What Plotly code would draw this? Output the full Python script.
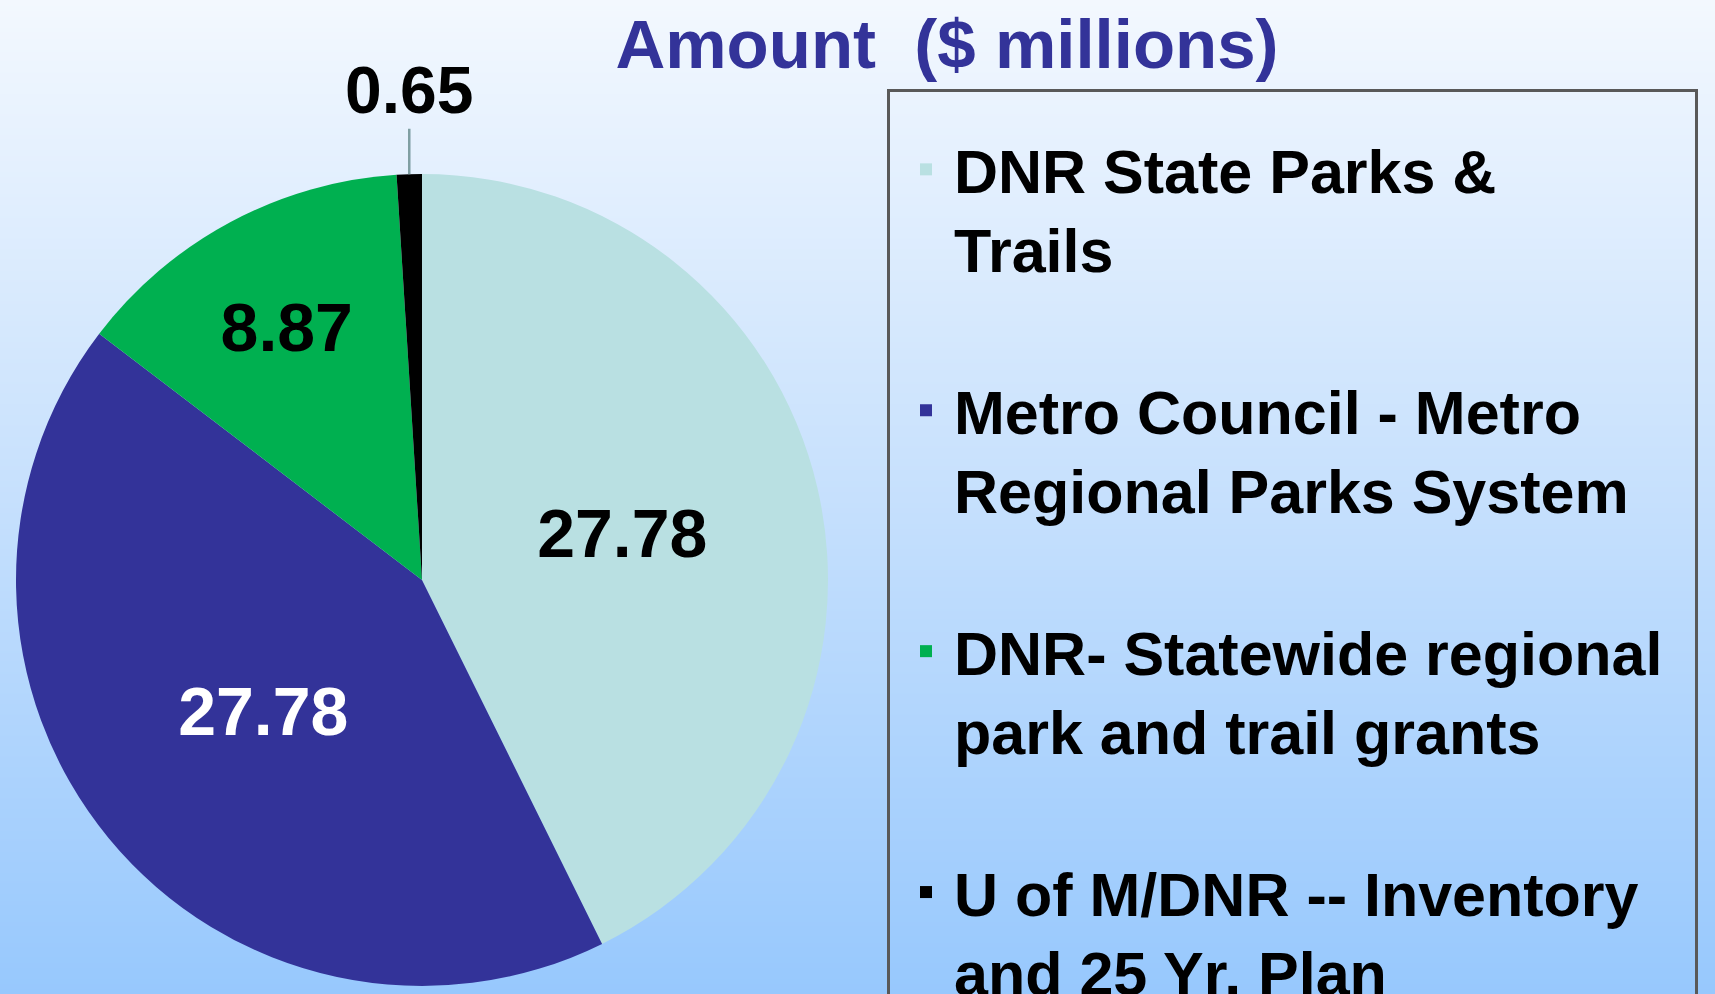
import math
import plotly.graph_objects as go

# ---- data ----
categories = [
    "DNR State Parks & Trails",
    "Metro Council - Metro Regional Parks System",
    "DNR- Statewide regional park and trail grants",
    "U of M/DNR -- Inventory and 25 Yr. Plan",
]
legend_lines = [
    ["DNR State Parks &", "Trails"],
    ["Metro Council - Metro", "Regional Parks System"],
    ["DNR- Statewide regional", "park and trail grants"],
    ["U of M/DNR -- Inventory", "and 25 Yr. Plan"],
]
amounts = [27.78, 27.78, 8.87, 0.65]
slice_colors = ["#b9e0e2", "#333399", "#00b050", "#000000"]
label_colors = ["#000000", "#ffffff", "#000000", "#000000"]
title_text = "Amount\u00a0 ($ millions)"

W, H = 1715, 994
FONT = "Liberation Sans, Arial, sans-serif"

# pie placement (pixels)
pie_left, pie_right, pie_top, pie_bottom = 16, 828, 172, 988
dom_x = [pie_left / W, pie_right / W]
dom_y = [1 - pie_bottom / H, 1 - pie_top / H]

legend_labels = []
for i, lines in enumerate(legend_lines):
    txt = "<br>".join(lines)
    if i < len(legend_lines) - 1:
        txt += "<br>\u00a0"
    legend_labels.append(txt)

fig = go.Figure()

# gradient background (decorative)
fig.add_trace(go.Heatmap(
    z=[[0, 0], [1, 1]], x=[0, 1], y=[0, 1],
    colorscale=[[0, "#97c8fd"], [0.5, "#c6e0fd"], [1, "#f3f8fe"]],
    zsmooth="best", showscale=False, hoverinfo="skip",
))

texts = ["%.2f" % v for v in amounts]
texttemplate = texts[:-1] + [""]

fig.add_trace(go.Pie(
    labels=legend_labels,
    values=amounts,
    sort=False,
    direction="clockwise",
    rotation=0,
    marker=dict(colors=slice_colors, line=dict(width=0)),
    texttemplate=texttemplate,
    textposition="inside",
    insidetextorientation="horizontal",
    textfont=dict(family=FONT, size=68, color=label_colors, weight="bold"),
    domain=dict(x=dom_x, y=dom_y),
    showlegend=True,
    hoverinfo="label+value",
))

# outside label for the small slice, computed from the data
total = sum(amounts)
R = min(pie_right - pie_left, pie_bottom - pie_top) / 2
cx = (pie_left + pie_right) / 2
cy = (pie_top + pie_bottom) / 2
start = sum(amounts[:-1]) / total * 2 * math.pi
mid = start + amounts[-1] / total * math.pi
px = cx + R * math.sin(mid)
py = cy - R * math.cos(mid)
fig.add_annotation(
    x=px / W, y=1 - py / H, xref="paper", yref="paper",
    text=texts[-1], showarrow=True, arrowhead=0, arrowwidth=2.5,
    arrowcolor="#7f9fa3", ax=0, ay=-84,
    font=dict(family=FONT, size=66, color="#000000", weight="bold"),
)

fig.update_layout(
    width=W, height=H,
    margin=dict(l=0, r=0, t=0, b=0, autoexpand=False),
    paper_bgcolor="#c6e0fd",
    plot_bgcolor="rgba(0,0,0,0)",
    xaxis=dict(visible=False, range=[0, 1], domain=[0, 1], fixedrange=True),
    yaxis=dict(visible=False, range=[0, 1], domain=[0, 1], fixedrange=True),
    title=dict(text=title_text, x=947 / W, y=1 - 44 / H, xanchor="center", yanchor="middle",
               font=dict(family=FONT, size=69, color="#333399", weight="bold")),
    legend=dict(
        x=887 / W, y=1 - 89 / H, xanchor="left", yanchor="top",
        bordercolor="#595959", borderwidth=3, bgcolor="rgba(0,0,0,0)",
        font=dict(family=FONT, size=61, color="#000000", weight="bold"),
        title=dict(text="\u00a0" * 120, font=dict(size=24)),
        valign="top", traceorder="normal",
        indentation=8, itemwidth=46,
    ),
)

fig.write_html("out.html", config={"displayModeBar": False},
               post_script="document.body.style.margin='0px';")
